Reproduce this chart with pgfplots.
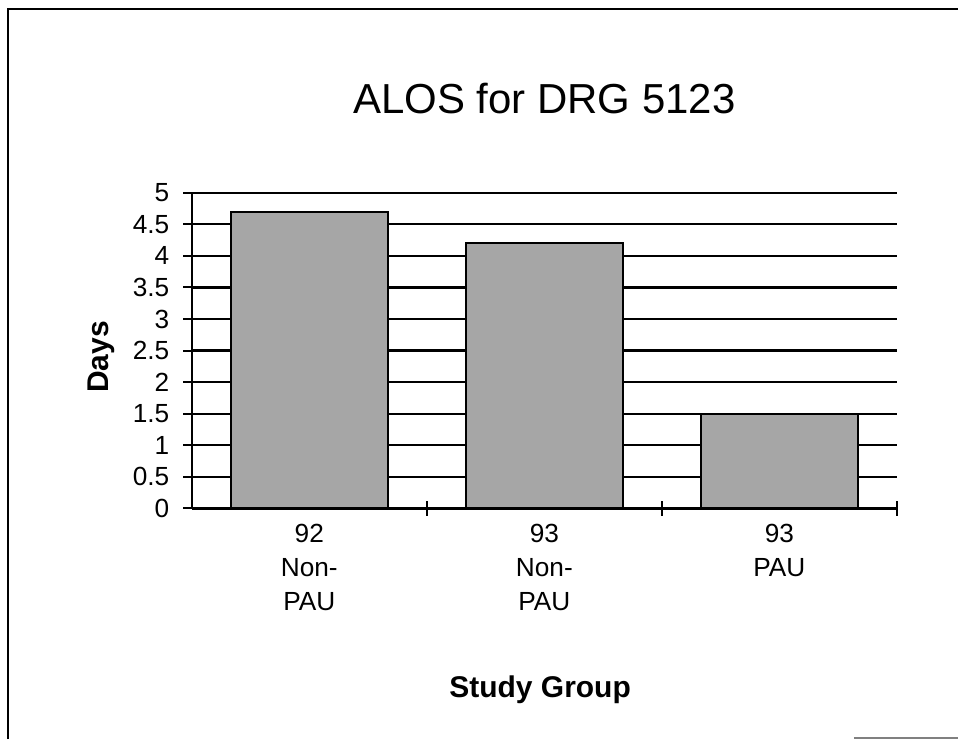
\documentclass[border=0pt]{standalone}
\usepackage{fontspec}
\setmainfont{Liberation Sans}
\usepackage{pgfplots}
\pgfplotsset{compat=1.18}

\begin{document}
\begin{tikzpicture}
% page size and frame (1px = 0.4pt)
\path (-76.8pt,-92.4pt) rectangle (306.8pt,203.6pt);
\draw[line width=0.9pt] (-73.6pt,-92.4pt) -- (-73.6pt,200pt) -- (306.8pt,200pt);
\draw[line width=0.9pt, gray] (265.2pt,-92pt) -- (306.8pt,-92pt);

\begin{axis}[
    at={(0,0)}, anchor=south west,
    scale only axis,
    width=282.4pt, height=126.4pt,
    xmin=-0.5, xmax=2.5,
    ymin=0, ymax=5,
    axis x line=bottom, axis y line=left,
    axis line style={-, line width=0.9pt},
    ytick={0,0.5,...,5},
    /pgf/number format/assume math mode=true,
    yticklabel style={font=\fontsize{10.5}{12}\selectfont, xshift=-2pt},
    ymajorgrids,
    major grid style={black, line width=0.9pt},
    tick style={black, line width=0.8pt},
    major tick length=3.5pt,
    tick align=outside,
    xtick={0,1,2},
    xticklabels={92\\Non-\\PAU, 93\\Non-\\PAU, 93\\PAU},
    xticklabel style={align=center, font=\fontsize{10.5}{13.6}\selectfont, yshift=0.6pt},
    xtick style={draw=none},
    extra x ticks={0.5,1.5,2.5},
    extra x tick labels={},
    extra x tick style={tick align=center, major tick length=6pt, grid=none, xtick style={draw=black}},
    title={ALOS for DRG 5123},
    title style={at={(axis description cs:0.5,1.203)}, anchor=base, font=\fontsize{16.8}{20}\selectfont},
    xlabel={Study Group},
    xlabel style={at={(axis description cs:0.494,-0.575)}, anchor=center, font=\fontsize{12}{14}\selectfont\bfseries},
    ylabel={Days},
    ylabel style={at={(axis description cs:-0.128,0.48)}, anchor=center, font=\fontsize{12}{14}\selectfont\bfseries},
  ]
  \addplot[ybar, bar width=0.667, bar shift=0pt, fill=black!35, draw=black, line width=0.9pt]
    coordinates {(0,4.7) (1,4.2) (2,1.5)};
\end{axis}
\end{tikzpicture}
\end{document}
